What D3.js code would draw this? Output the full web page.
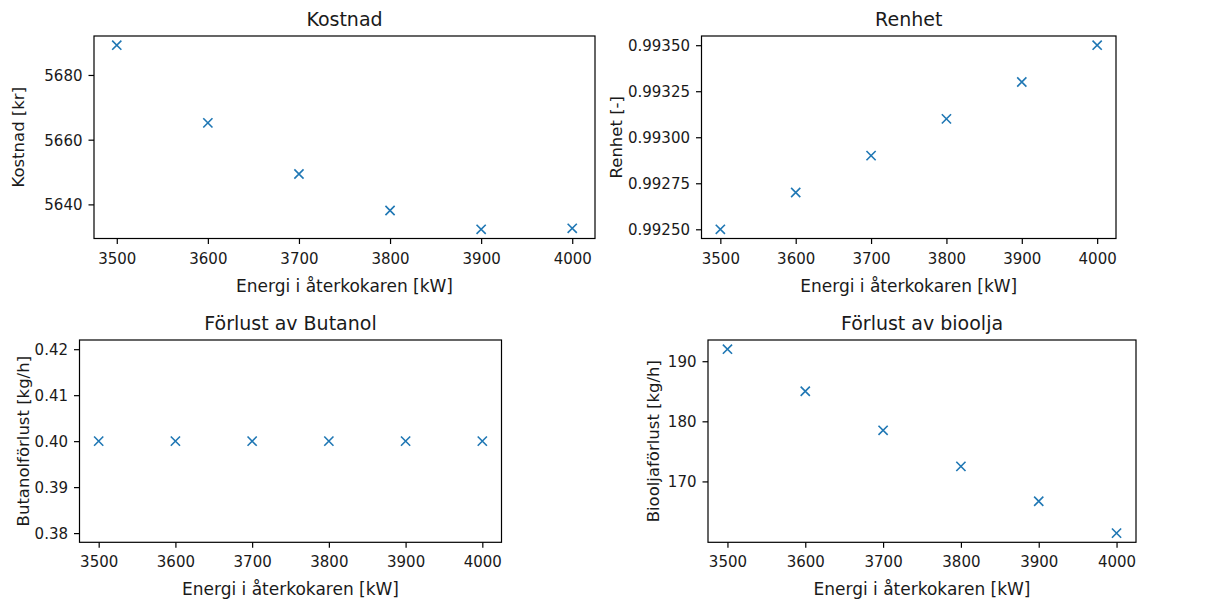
<!DOCTYPE html>
<html>
<head>
<meta charset="utf-8">
<script src="https://cdn.jsdelivr.net/npm/d3@7"></script>
<style>
  body { margin: 0; background: #fff; }
  svg, svg text { font-family: "DejaVu Sans", sans-serif; }
  .tick text { font-size: 15px; fill: #1a1a1a; }
  .tick line { stroke: #000; stroke-width: 1.2; }
</style>
</head>
<body>
<svg id="graph" width="1232" height="601"></svg>
<script>
(function() {

// shared x values
const energi = [3500, 3600, 3700, 3800, 3900, 4000];
const xTicks = [3500, 3600, 3700, 3800, 3900, 4000];

// series
const kostnad = [5689.2, 5665.2, 5649.4, 5638.1, 5632.3, 5632.6];
const renhet = [0.99250, 0.99270, 0.99290, 0.99310, 0.99330, 0.99350];
const butanol = [0.40, 0.40, 0.40, 0.40, 0.40, 0.40];
const bioolja = [192.0, 185.0, 178.5, 172.5, 166.7, 161.4];

const kostnadTicks = [5640, 5660, 5680];
const renhetTicks = [0.99250, 0.99275, 0.99300, 0.99325, 0.99350];
const butanolTicks = [0.38, 0.39, 0.40, 0.41, 0.42];
const biooljaTicks = [170, 180, 190];

const svg = d3.select('#graph');
const blue = '#1f77b4';
const xLabel = 'Energi i återkokaren [kW]';

const panels = [
  {title: 'Kostnad', ylab: 'Kostnad [kr]', values: kostnad, ticks: kostnadTicks, fmt: d3.format('d'),
   box: [94, 36, 595, 238.5], yl: 24},
  {title: 'Renhet', ylab: 'Renhet [-]', values: renhet, ticks: renhetTicks, fmt: d3.format('.5f'),
   box: [701.5, 36, 1116, 238.5], yl: 622},
  {title: 'Förlust av Butanol', ylab: 'Butanolförlust [kg/h]', values: butanol, ticks: butanolTicks, fmt: d3.format('.2f'),
   box: [79.5, 340, 501.5, 542.3], yl: 28.5},
  {title: 'Förlust av bioolja', ylab: 'Biooljaförlust [kg/h]', values: bioolja, ticks: biooljaTicks, fmt: d3.format('d'),
   box: [708, 340, 1136, 542.3], yl: 659}
];

// matplotlib-like autoscale with 5% margins
function padded(ext) {
  let [lo, hi] = ext;
  if (hi - lo < 1e-12) {
    lo -= 0.05 * Math.abs(lo);
    hi += 0.05 * Math.abs(hi);
  }
  const m = (hi - lo) * 0.05;
  return [lo - m, hi + m];
}

panels.forEach(p => {
  const [x0, y0, x1, y1] = p.box;
  const g = svg.append('g');

  const x = d3.scaleLinear().domain(padded(d3.extent(energi))).range([x0, x1]);
  const y = d3.scaleLinear().domain(padded(d3.extent(p.values))).range([y1, y0]);

  g.append('g')
    .attr('transform', `translate(0,${y1})`)
    .call(d3.axisBottom(x).tickValues(xTicks).tickSize(5.5).tickSizeOuter(0).tickPadding(9).tickFormat(d3.format('d')))
    .call(a => a.select('.domain').remove());

  g.append('g')
    .attr('transform', `translate(${x0},0)`)
    .call(d3.axisLeft(y).tickValues(p.ticks).tickSize(5.5).tickSizeOuter(0).tickPadding(6).tickFormat(p.fmt))
    .call(a => a.select('.domain').remove())
    .selectAll('text').attr('dy', '0.37em');

  g.append('rect')
    .attr('x', x0).attr('y', y0)
    .attr('width', x1 - x0).attr('height', y1 - y0)
    .attr('fill', 'none').attr('stroke', '#000').attr('stroke-width', 1.2);

  const s = 4.6;
  g.selectAll('.pt')
    .data(energi.map((e, i) => [e, p.values[i]]))
    .enter().append('path')
      .attr('class', 'pt')
      .attr('transform', d => `translate(${x(d[0])},${y(d[1])})`)
      .attr('d', `M${-s},${-s}L${s},${s}M${-s},${s}L${s},${-s}`)
      .attr('stroke', blue)
      .attr('stroke-width', 1.6)
      .attr('fill', 'none');

  g.append('text')
    .attr('x', (x0 + x1) / 2)
    .attr('y', y0 - 10.5)
    .attr('text-anchor', 'middle')
    .style('font-size', '19px')
    .style('fill', '#1a1a1a')
    .text(p.title);

  g.append('text')
    .attr('x', (x0 + x1) / 2)
    .attr('y', y1 + 53)
    .attr('text-anchor', 'middle')
    .style('font-size', '17px')
    .style('fill', '#1a1a1a')
    .text(xLabel);

  g.append('text')
    .attr('transform', `translate(${p.yl},${(y0 + y1) / 2}) rotate(-90)`)
    .attr('text-anchor', 'middle')
    .style('font-size', '16.5px')
    .style('fill', '#1a1a1a')
    .text(p.ylab);
});

})();
</script>
</body>
</html>
